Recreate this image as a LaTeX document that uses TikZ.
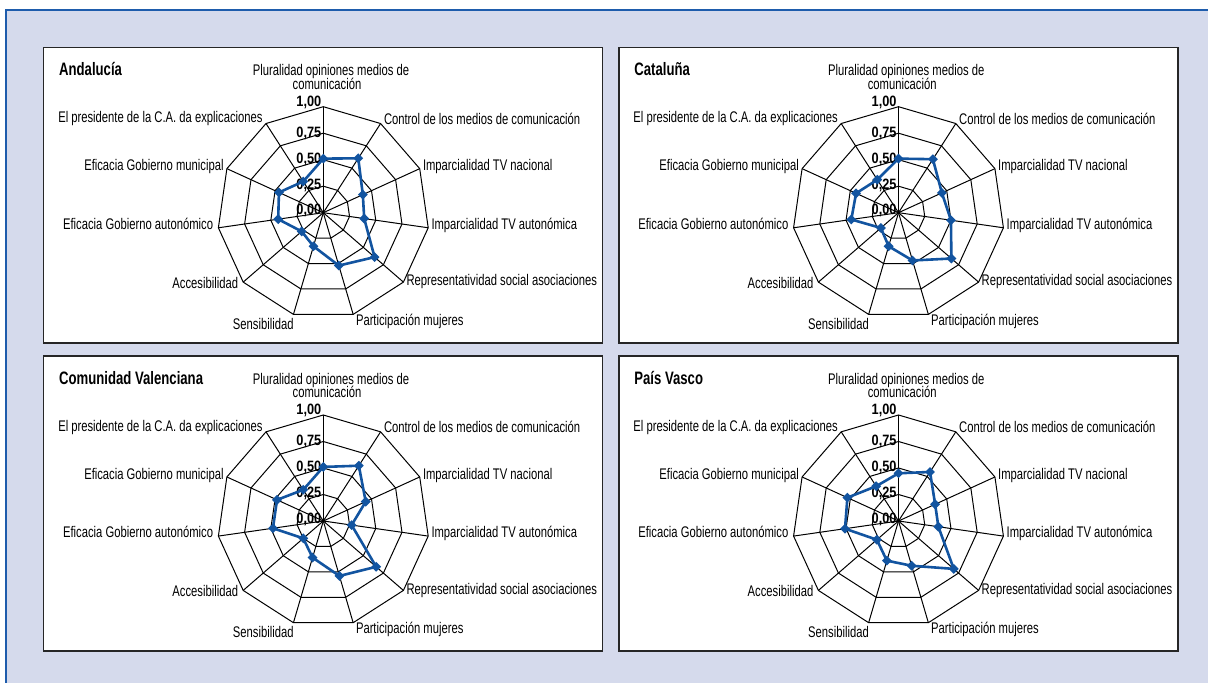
\documentclass[tikz,border=0pt]{standalone}
\usepackage{fontspec}
\setmainfont{Liberation Sans}[FakeStretch=0.73]
\newfontfamily\numfont{Liberation Sans}[FakeStretch=0.85]
\usetikzlibrary{shapes.geometric}
\definecolor{bglav}{RGB}{213,218,236}
\definecolor{frameblue}{RGB}{30,92,172}
\definecolor{datablue}{RGB}{18,84,160}
\tikzset{
 panelbox/.style={draw=black!85, line width=1.6pt, fill=white, inner sep=0pt, minimum width=559pt, minimum height=295.3pt},
 gridline/.style={black, line width=1pt, line join=miter},
 dataline/.style={datablue, line width=2.6pt, line join=round},
 datamark/.style={diamond, fill=datablue, inner sep=0pt, minimum size=10pt},
 axislabel/.style={font=\fontsize{15.4}{15}\selectfont, inner sep=0pt},
 ticklabel/.style={font=\numfont\bfseries\fontsize{15}{15}\selectfont, inner sep=0pt, anchor=base east},
 titlelabel/.style={font=\bfseries\fontsize{18}{18}\selectfont, inner sep=0pt, anchor=base west},
}
\newcommand{\radarpanel}[5]{%
 \begin{scope}[shift={(#2,#3)}]
  \node[panelbox] (#1-box) at (-0.3,17.35) {};
  \node[titlelabel] (#1-title) at (-264.3,136.9) {#4};
  \foreach \r in {26.5,53,79.5,106}
   \draw[gridline] (90:\r) \foreach \k in {1,...,10} {-- ({90-\k*360/11}:\r)} -- cycle;
  \coordinate (#1-c) at (0,0);
  \foreach \k in {0,...,10} {
   \coordinate (#1-o\k) at ({90-\k*360/11}:106);
   \draw[gridline] (#1-c) -- (#1-o\k);
  }
  \node[ticklabel] (#1-t0) at (-1.8,-2.3) {0,00};
  \node[ticklabel] (#1-t25) at (-1.8,23.4) {0,25};
  \node[ticklabel] (#1-t50) at (-1.8,49.4) {0,50};
  \node[ticklabel] (#1-t75) at (-1.8,75) {0,75};
  \node[ticklabel] (#1-t100) at (-1.8,106) {1,00};
  \node[axislabel, anchor=base] (#1-l0a) at (7.7,136.7) {Pluralidad opiniones medios de};
  \node[axislabel, anchor=base] (#1-l0b) at (3.7,123.4) {comunicación};
  \node[axislabel, anchor=base west] (#1-l1) at (60.5,88.1) {Control de los medios de comunicación};
  \node[axislabel, anchor=base west] (#1-l2) at (99.5,41.7) {Imparcialidad TV nacional};
  \node[axislabel, anchor=base west] (#1-l3) at (108,-16.9) {Imparcialidad TV autonómica};
  \node[axislabel, anchor=base west] (#1-l4) at (83,-73.3) {Representatividad social asociaciones};
  \node[axislabel, anchor=base west] (#1-l5) at (32.5,-112.6) {Participación mujeres};
  \node[axislabel, anchor=base east] (#1-l6) at (-29.5,-116.6) {Sensibilidad};
  \node[axislabel, anchor=base east] (#1-l7) at (-85,-75.9) {Accesibilidad};
  \node[axislabel, anchor=base east] (#1-l8) at (-110,-16.6) {Eficacia Gobierno autonómico};
  \node[axislabel, anchor=base east] (#1-l9) at (-99.5,41.7) {Eficacia Gobierno municipal};
  \node[axislabel, anchor=base east] (#1-l10) at (-60.5,89.7) {El presidente de la C.A. da explicaciones};
  \foreach \v [count=\k from 0] in {#5}
   \coordinate (#1-d\k) at ({90-\k*360/11}:{\v*106});
  \draw[dataline] (#1-d0) \foreach \k in {1,...,10} {-- (#1-d\k)} -- cycle;
  \foreach \k in {0,...,10} \node[datamark] (#1-m\k) at (#1-d\k) {};
 \end{scope}}
\begin{document}
\begin{tikzpicture}[x=1pt,y=1pt]
\useasboundingbox (0,0) rectangle (1208,683);
\clip (0,0) rectangle (1208,683);
\fill[white] (0,0) rectangle (1208,683);
\fill[bglav] (6,0) rectangle (1208,673);
\draw[frameblue, line width=1.5pt] (6,-2) -- (6,673) -- (1212,673);
\radarpanel{and}{323.3}{470.3}{Andalucía}{0.51,0.61,0.41,0.39,0.64,0.52,0.33,0.27,0.43,0.46,0.35}
\radarpanel{cat}{898.5}{470.3}{Cataluña}{0.51,0.60,0.45,0.50,0.66,0.47,0.33,0.22,0.45,0.44,0.37}
\radarpanel{val}{323.3}{162}{Comunidad Valenciana}{0.51,0.62,0.44,0.27,0.66,0.54,0.36,0.25,0.48,0.48,0.35}
\radarpanel{pv}{898.5}{162}{País Vasco}{0.45,0.55,0.38,0.38,0.69,0.44,0.39,0.27,0.51,0.53,0.39}
\end{tikzpicture}
\end{document}
